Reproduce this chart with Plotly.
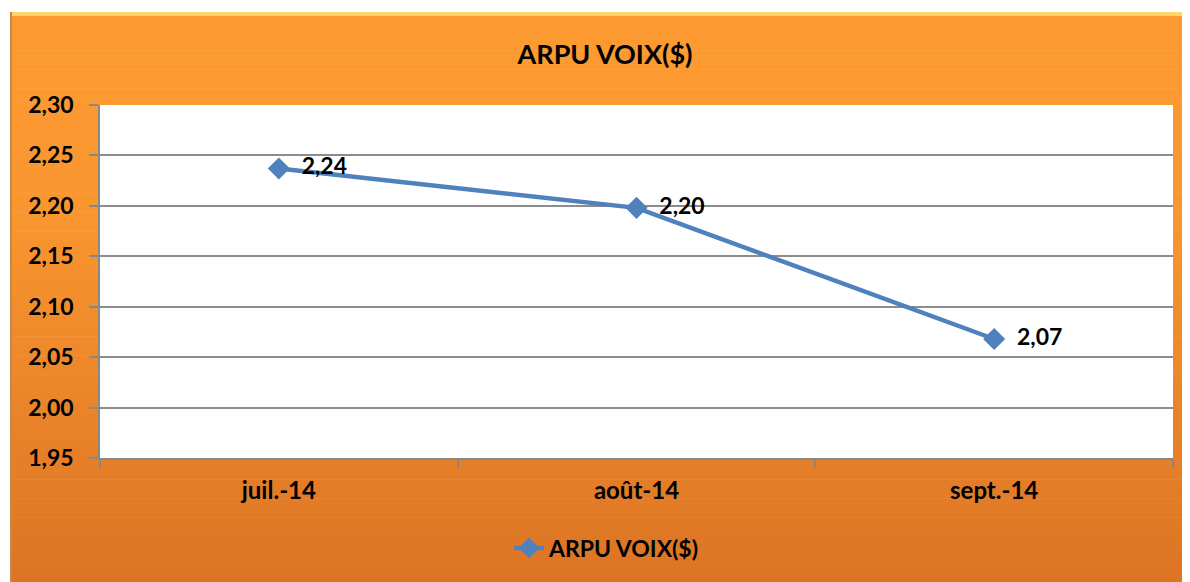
import plotly.graph_objects as go

categories = ["juil.-14", "août-14", "sept.-14"]
values = [2.237, 2.198, 2.068]
series_name = "ARPU VOIX($)"
title_text = "ARPU VOIX($)"

# page body has an 8px margin; size figure so it ends at window edge
W, H = 1182, 574
L, R, T, B = 92, 17, 97, 124
pw, ph = W - L - R, H - T - B

def px_to_paper_x(px):
    return (px - L) / pw

def px_to_paper_y(py):
    return (H - B - py) / ph

font_family = "Lato, 'Open Sans', sans-serif"

fig = go.Figure()
fig.add_trace(go.Scatter(
    x=categories, y=values, name=series_name,
    mode="lines+markers+text",
    line=dict(color="#4F81BD", width=4.5),
    marker=dict(symbol="diamond", size=17, color="#4F81BD"),
    texttemplate="  %{y:.2f}", textposition="middle right",
    textfont=dict(family=font_family, size=23, color="black", weight="bold"),
    cliponaxis=False,
))

shapes = []
top_px, bot_px, left_px, right_px = 4, 576, 2, 1186
c0 = (253, 155, 50)
c_mid = (250, 150, 48)
c1 = (220, 116, 36)
n = 60
for i in range(n):
    y0 = top_px + (bot_px - top_px) * i / n
    y1 = top_px + (bot_px - top_px) * (i + 1) / n
    t = (i + 0.5) / n
    if t < 0.35:
        u = t / 0.35
        c = tuple(round(c0[k] + (c_mid[k] - c0[k]) * u) for k in range(3))
    else:
        u = (t - 0.35) / 0.65
        c = tuple(round(c_mid[k] + (c1[k] - c_mid[k]) * u) for k in range(3))
    shapes.append(dict(type="rect", xref="paper", yref="paper",
                       x0=px_to_paper_x(left_px), x1=px_to_paper_x(right_px),
                       y0=px_to_paper_y(y1 + 0.6), y1=px_to_paper_y(y0),
                       fillcolor="rgb(%d,%d,%d)" % c, line=dict(width=0),
                       layer="below"))
shapes.append(dict(type="rect", xref="paper", yref="paper",
                   x0=px_to_paper_x(left_px), x1=px_to_paper_x(right_px),
                   y0=px_to_paper_y(8), y1=px_to_paper_y(4),
                   fillcolor="#FFD568", line=dict(width=0), layer="below"))
shapes.append(dict(type="rect", xref="paper", yref="paper",
                   x0=px_to_paper_x(left_px), x1=px_to_paper_x(left_px + 2),
                   y0=px_to_paper_y(bot_px), y1=px_to_paper_y(top_px),
                   fillcolor="#C8864A", line=dict(width=0), layer="below"))
shapes.append(dict(type="rect", xref="paper", yref="paper",
                   x0=0, x1=1, y0=0, y1=1,
                   fillcolor="white", line=dict(width=0), layer="below"))

fig.update_layout(
    width=W, height=H,
    margin=dict(l=L, r=R, t=T, b=B),
    paper_bgcolor="white",
    plot_bgcolor="rgba(0,0,0,0)",
    separators=", ",
    shapes=shapes,
    title=dict(text=title_text, x=597 / W, xanchor="center", y=1 - 47 / H, yanchor="middle",
               font=dict(family=font_family, size=27, color="black", weight="bold")),
    font=dict(family=font_family, size=23, color="black"),
    showlegend=True,
    legend=dict(orientation="h", x=(607 - 8 - L) / pw, xanchor="center",
                y=px_to_paper_y(540), yanchor="middle",
                font=dict(family=font_family, size=23, color="black", weight="bold"),
                bgcolor="rgba(0,0,0,0)"),
    xaxis=dict(type="category", tickson="boundaries", ticks="outside", ticklen=8,
               tickcolor="#888888", tickwidth=1.5, showgrid=False,
               showline=True, linecolor="#888888", linewidth=1.5,
               range=[-0.5, 2.5],
               tickfont=dict(family=font_family, size=24, color="black", weight="bold"),
               ticklabelstandoff=10),
    yaxis=dict(range=[1.95, 2.30], dtick=0.05, tick0=1.95, tickformat=".2f",
               ticks="outside", ticklen=9, tickcolor="#888888", tickwidth=1.5,
               showgrid=True, gridcolor="#8C8C8C", gridwidth=1.5,
               showline=True, linecolor="#888888", linewidth=1.5,
               zeroline=False,
               tickfont=dict(family=font_family, size=23, color="black", weight="bold"),
               ticklabelstandoff=11),
)

fig.write_html("out.html")
